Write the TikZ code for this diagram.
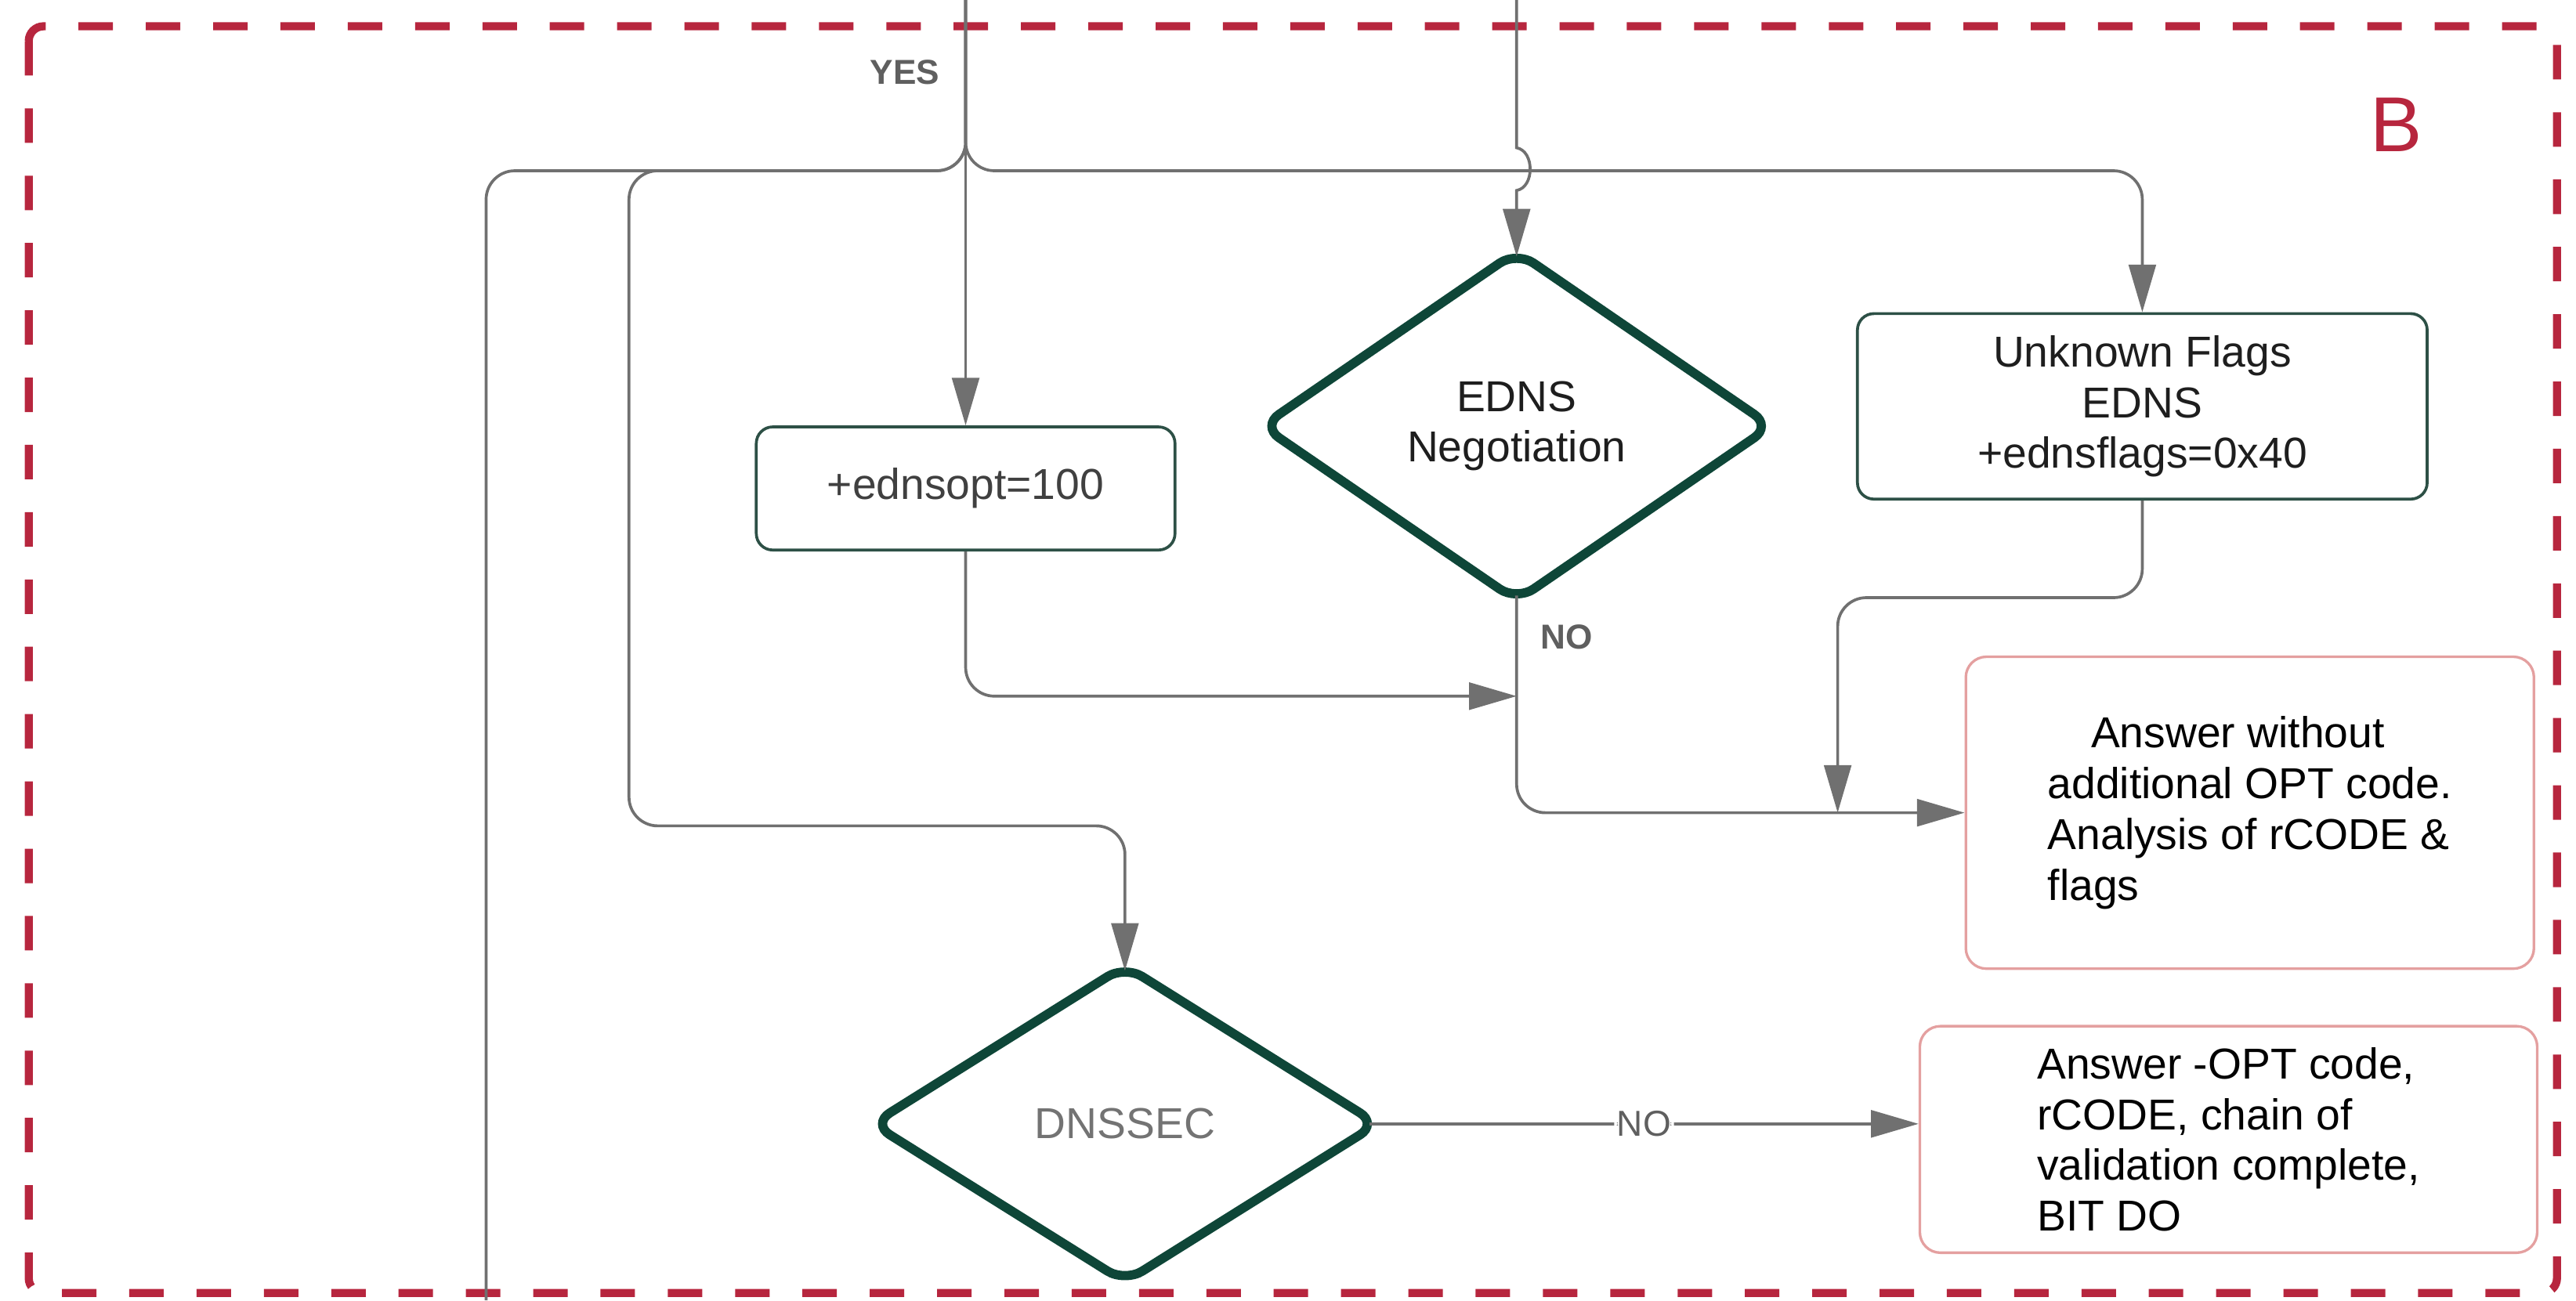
\documentclass[tikz,border=0pt]{standalone}
\usepackage{fontspec}
\setmainfont{Liberation Sans}
\usetikzlibrary{arrows.meta,shapes.geometric}
\definecolor{frameRed}{RGB}{183,38,62}
\definecolor{dkGreen}{RGB}{14,70,56}
\definecolor{boxGreen}{RGB}{45,80,70}
\definecolor{pinkLine}{RGB}{228,160,160}
\definecolor{lineGray}{RGB}{112,112,112}
\definecolor{labGray}{RGB}{95,95,95}
\definecolor{txtDark}{RGB}{30,30,30}
\begin{document}
\begin{tikzpicture}[x=0.02cm,y=-0.02cm,
  mainfont/.style={font=\fontsize{15}{17.6}\selectfont},
  gbox/.style={draw=boxGreen, line width=1pt, rounded corners=0.2cm, mainfont, text=txtDark, align=center},
  pbox/.style={draw=pinkLine, line width=0.9pt, rounded corners=0.25cm, mainfont, text=black, align=left},
  decision/.style={diamond, draw=dkGreen, line width=3.2pt, rounded corners=0.25cm, mainfont, align=center, inner sep=0pt},
  conn/.style={draw=lineGray, line width=1pt, rounded corners=0.35cm},
  arr/.style={-{Triangle[length=0.58cm,width=0.33cm]}},
  yn/.style={font=\fontsize{12}{14}\selectfont\bfseries, text=labGray},
  framebox/.style={draw=frameRed, line width=2.8pt, dash pattern=on 0.42cm off 0.4cm, rounded corners=0.18cm}
]
\useasboundingbox (0,0) rectangle (1568.6,792);
\draw[framebox] (17.5,16) rectangle (1557,787.5);

% nodes
\node[gbox, text=black!75, minimum width=5.1cm, minimum height=1.5cm] (ednsopt) at (588,297.5) {+ednsopt=100};
\node[decision, text=txtDark, minimum width=6.25cm, minimum height=4.3cm] (edns) at (923.5,259.5) {EDNS\\Negotiation};
\node[gbox, minimum width=6.94cm, minimum height=2.26cm] (uflags) at (1304.5,247.5) {Unknown Flags\\EDNS\\+ednsflags=0x40};
\node[pbox, minimum width=6.92cm, minimum height=3.8cm] (ansA) at (1370,495) {\hspace*{15pt}Answer without\\additional OPT code.\\Analysis of rCODE \&\\flags};
\node[decision, text=black!55, minimum width=6.2cm, minimum height=3.9cm] (dnssec) at (685,684.5) {DNSSEC};
\node[pbox, minimum width=7.52cm, minimum height=2.76cm] (ansB) at (1357,694) {Answer -OPT code,\\rCODE, chain of\\validation complete,\\BIT DO};

% labels
\node[yn] (yes) at (551,44) {YES};
\node[yn] (noA) at (954,388) {NO};
\node[text=frameRed, font=\fontsize{27}{30}\selectfont] (lblB) at (1459,76) {B};

% free ends
\coordinate (topA) at (588,0);
\coordinate (topB) at (923.5,0);
\coordinate (botL) at (296,792);
\coordinate (hitNo) at (923.5,424);
\coordinate (hitAns) at (1119,495);

% connectors
\draw[conn,arr] (topA) -- (ednsopt.north);
\draw[conn] (topA) -- (588,104) -- (296,104) -- (botL);
\draw[conn,arr] (topA) -- (588,104) -- (383,104) -- (383,503) -- (685,503) -- ([yshift=-4pt]dnssec.north);
\draw[conn,arr] (topA) -- (588,104) -- (1304.5,104) -- (uflags.north);
\draw[conn,arr,sharp corners] (topB) -- (923.5,90) .. controls (934.5,92) and (934.5,114) .. (923.5,116) -- ([yshift=-4pt]edns.north);
\draw[conn,arr] (ednsopt.south) -- (588,424) -- (hitNo);
\draw[conn,arr] ([yshift=4pt]edns.south) |- (ansA.west);
\draw[conn,arr] (uflags.south) -- (1304.5,364) -- (1119,364) -- (hitAns);
\draw[conn,arr] ([xshift=-5pt]dnssec.east) -- node[fill=white, inner sep=1pt, font=\fontsize{12.5}{14}\selectfont, text=labGray] (noB) {NO} (dnssec.east -| ansB.west);
\end{tikzpicture}
\end{document}
